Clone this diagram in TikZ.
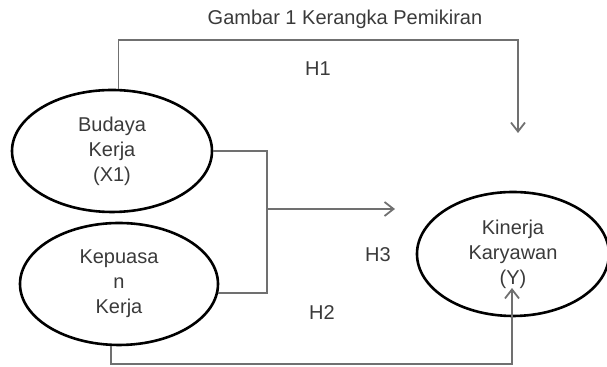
\documentclass[tikz,border=0pt]{standalone}
\usepackage{fontspec}
\setmainfont{Liberation Sans}
\usetikzlibrary{arrows.meta,positioning,shapes.geometric}
\definecolor{inkgray}{HTML}{3A3A3A}
\definecolor{linegray}{HTML}{707070}

\begin{document}
\begin{tikzpicture}[
  x=0.5pt, y=-0.5pt,
  font=\fontsize{10}{12.5}\selectfont,
  var/.style={ellipse, draw=black, line width=1.3pt, inner sep=0pt, align=center, text=inkgray},
  link/.style={draw=linegray, line width=0.9pt},
  hyp/.style={text=inkgray, inner sep=0pt},
  >={Straight Barb[length=4.5pt,width=7pt]},
]
  \useasboundingbox (0,0) rectangle (607,367);
  \node[hyp] (title) at (345,19) {Gambar 1 Kerangka Pemikiran};
  \node[var, minimum width=100pt, minimum height=61pt] (x1) at (112,151) {Budaya\\Kerja\\(X1)};
  \node[var, minimum width=99pt, minimum height=61pt] (x2) at (119,284) {Kepuasa\\n\\Kerja};
  \node[var, minimum width=96pt, minimum height=62pt] (y) at (513,254) {Kinerja\\Karyawan\\(Y)};
  \node[hyp] (h1) at (318,69) {H1};
  \node[hyp] (h3) at (378,255) {H3};
  \node[hyp] (h2) at (322,313) {H2};

  \coordinate (h1corner) at (518,40);
  \coordinate (h1end) at (518,133);
  \coordinate (split) at (267,209);
  \coordinate (h3end) at (395,209);
  \coordinate (h2corner) at (512,364);
  \coordinate (h2end) at (512,288);

  \draw[link, ->] (x1.84) |- (h1corner) -- (h1end);
  \draw[link] (x1.east) -| (split) |- (x2.-5);
  \draw[link, ->] (split) -- (h3end);
  \draw[link, ->] (x2.-97) |- (h2corner) -- (h2end);
\end{tikzpicture}
\end{document}
